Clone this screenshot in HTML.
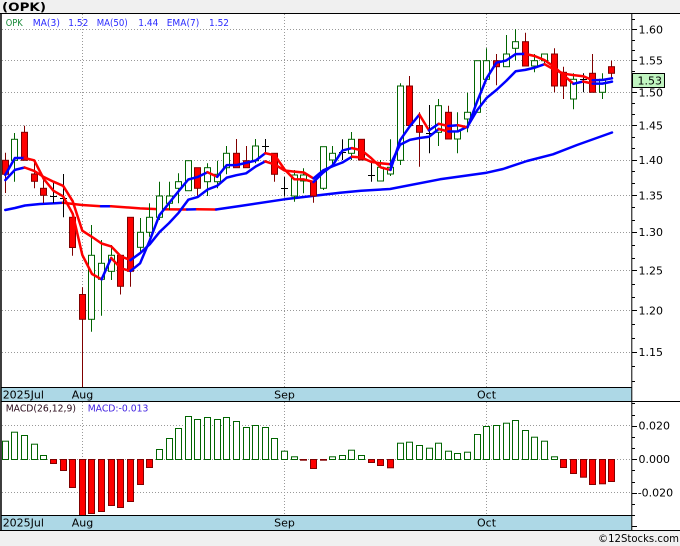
<!DOCTYPE html>
<html><head><meta charset="utf-8">
<style>
html,body{margin:0;padding:0;background:#f0f0f0;overflow:hidden;}
svg{display:block;}
text{font-family:"DejaVu Sans","Liberation Sans",sans-serif;}
</style></head>
<body>
<svg id="c" width="680" height="546" viewBox="0 0 680 546" xmlns="http://www.w3.org/2000/svg">
<defs>
<clipPath id="cpMain"><rect x="1.5" y="14" width="630.3" height="373"/></clipPath>
<clipPath id="cpMacd"><rect x="1.5" y="402" width="630.3" height="113"/></clipPath>
</defs>
<rect x="0" y="0" width="680" height="546" fill="#f0f0f0"/>
<rect x="1" y="14" width="679" height="516" fill="#ffffff"/>
<g id="grid"></g>
<g id="plot" clip-path="url(#cpMain)"></g>
<g id="macd" clip-path="url(#cpMacd)"></g>

<!-- date bands -->
<rect x="1" y="387" width="631" height="14" fill="#add8e6"/>
<rect x="1" y="515" width="631" height="15" fill="#add8e6"/>
<line x1="1" y1="387.5" x2="632" y2="387.5" stroke="#000" stroke-width="1"/>
<line x1="1" y1="401.5" x2="680" y2="401.5" stroke="#000" stroke-width="1"/>
<line x1="1" y1="515.5" x2="632" y2="515.5" stroke="#000" stroke-width="1"/>
<line x1="0" y1="530.5" x2="680" y2="530.5" stroke="#000" stroke-width="1"/>
<line x1="0" y1="13.5" x2="680" y2="13.5" stroke="#000" stroke-width="1"/>
<line x1="1" y1="13.5" x2="1" y2="531" stroke="#000" stroke-width="1.5"/>
<line x1="631.8" y1="13.5" x2="631.8" y2="531" stroke="#000" stroke-width="1"/>
<g id="ticks"></g>

<!-- title & legend -->
<text x="2" y="11" font-size="11.5" font-weight="bold" fill="#000" textLength="44" lengthAdjust="spacingAndGlyphs">(OPK)</text>
<g font-size="10">
<text x="5.7" y="26" fill="#1a8a3a" textLength="17" lengthAdjust="spacingAndGlyphs">OPK</text>
<text x="32.7" y="26" fill="#2a2aff" textLength="27.3" lengthAdjust="spacingAndGlyphs">MA(3)</text>
<text x="68.3" y="26" fill="#2a2aff" textLength="20" lengthAdjust="spacingAndGlyphs">1.52</text>
<text x="96.7" y="26" fill="#2a2aff" textLength="31" lengthAdjust="spacingAndGlyphs">MA(50)</text>
<text x="138.3" y="26" fill="#2a2aff" textLength="20" lengthAdjust="spacingAndGlyphs">1.44</text>
<text x="166.7" y="26" fill="#2a2aff" textLength="32.6" lengthAdjust="spacingAndGlyphs">EMA(7)</text>
<text x="209" y="26" fill="#2a2aff" textLength="20" lengthAdjust="spacingAndGlyphs">1.52</text>
</g>

<!-- price labels -->
<g font-size="11" fill="#000">
<text x="638.5" y="33.3">1.60</text>
<text x="638.5" y="64.3">1.55</text>
<text x="638.5" y="96.4">1.50</text>
<text x="638.5" y="129.5">1.45</text>
<text x="638.5" y="163.8">1.40</text>
<text x="638.5" y="199.3">1.35</text>
<text x="638.5" y="236.2">1.30</text>
<text x="638.5" y="274.5">1.25</text>
<text x="638.5" y="314.4">1.20</text>
<text x="638.5" y="356">1.15</text>
</g>
<rect x="632.5" y="73.5" width="32" height="14" fill="#c1f5c1" stroke="#000" stroke-width="1"/>
<text x="637.5" y="84.5" font-size="11" fill="#000">1.53</text>

<!-- date labels -->
<g font-size="11" fill="#000">
<text x="2.7" y="398.5">2025Jul</text>
<text x="82.5" y="398.5" text-anchor="middle">Aug</text>
<text x="284.5" y="398.5" text-anchor="middle">Sep</text>
<text x="486.5" y="398.5" text-anchor="middle">Oct</text>
<text x="2.7" y="526.5">2025Jul</text>
<text x="82.5" y="526.5" text-anchor="middle">Aug</text>
<text x="284.5" y="526.5" text-anchor="middle">Sep</text>
<text x="486.5" y="526.5" text-anchor="middle">Oct</text>
</g>

<!-- MACD labels -->
<text x="5.7" y="411.7" font-size="9.5" fill="#2a0a1a" textLength="70.3" lengthAdjust="spacingAndGlyphs">MACD(26,12,9)</text>
<text x="87.7" y="411.7" font-size="9.5" fill="#4020e0" textLength="60.7" lengthAdjust="spacingAndGlyphs">MACD:-0.013</text>
<g font-size="11" fill="#000">
<text x="638.5" y="429.3">0.020</text>
<text x="638.5" y="463">0.000</text>
<text x="637.7" y="496.5">-0.020</text>
</g>
<text x="598" y="542" font-size="10.5" fill="#000" textLength="81" lengthAdjust="spacingAndGlyphs">©12Stocks.com</text>
</svg>

<script>
(function(){
var S='http://www.w3.org/2000/svg';
function el(p,t,a){var e=document.createElementNS(S,t);for(var k in a)e.setAttribute(k,a[k]);p.appendChild(e);return e;}
var gGrid=document.getElementById('grid'),gPlot=document.getElementById('plot'),gMacd=document.getElementById('macd'),gTicks=document.getElementById('ticks');
var Y0=29.3,K=977;
function py(p){return Y0+K*Math.log(1.6/p);}
function X(i){return 5.3+9.63*i;}
function XC(i){return Math.floor(X(i));}

// grid
var dash={stroke:'#999','stroke-width':1,'stroke-dasharray':'1,2'};
function dl(x1,y1,x2,y2){var a={x1:x1,y1:y1,x2:x2,y2:y2};for(var k in dash)a[k]=dash[k];el(gGrid,'line',a);}
for(var j=0;j<=9;j++){var p=1.15+j*0.05;var y=Math.round(py(p))+0.5;dl(2,y,632,y);}
[8,29,50].forEach(function(i){var x=XC(i)+0.5;dl(x,14,x,387);dl(x,402,x,515);});
[425.5,459.5,492.5].forEach(function(y){dl(2,y,632,y);});

// ticks
for(var j=-30;j<=3;j++){var p=1.6+j*(0.05/3);if(p<=0)continue;var y=py(p);if(y<14||y>387)continue;var len=(j%3===0)?5:3;y=Math.round(y)+0.5;el(gTicks,'line',{x1:632,y1:y,x2:632+len,y2:y,stroke:'#000','stroke-width':1});}
for(var j=-7;j<=6;j++){var y=459.3-j*11.17;if(y<402||y>530)continue;var len=(j%3===0)?5:3;y=Math.round(y)+0.5;el(gTicks,'line',{x1:632,y1:y,x2:632+len,y2:y,stroke:'#000','stroke-width':1});}

// MA50
var ma50=[
['#0000ff',[[5.3,210],[15,208],[25,205.5],[40,204],[55,203.2],[63,202.8]]],
['#ff0000',[[63,202.8],[82,205],[101,206.2]]],
['#0000ff',[[101,206.2],[111,206.2]]],
['#ff0000',[[111,206.2],[140,208.4],[160,209.3],[187,209.5]]],
['#0000ff',[[187,209.5],[197,209.3]]],
['#ff0000',[[197,209.3],[216,209.5]]],
['#0000ff',[[216,209.5],[240,206],[284.5,199.3],[340,192.7],[361,190.7],[390,189],[440,179.3],[486.7,172.7],[503,169],[527,161],[553,154.3],[577,145],[612,132.5]]]
];
function pl(pts,col){el(gPlot,'polyline',{points:pts.map(function(q){return q[0].toFixed(1)+','+q[1].toFixed(1);}).join(' '),fill:'none',stroke:col,'stroke-width':2.5,'stroke-linejoin':'round','stroke-linecap':'round'});}
ma50.forEach(function(r){pl(r[1],r[0]);});

// candles: type, bodyTop, bodyBot, wickTop, wickBot
var C=[
['r',160.3,174.3,152.7,193],
['g',139.3,160.3,133,181.7],
['r',132.3,160.3,125.7,160.3],
['r',174,181.3,160.3,188.3],
['r',188.3,195.3,180,203],
['d',195.7,195.7,183,203],
['d',198,198,174,217.3],
['r',217.3,247.5,217.3,255.7],
['r',294.5,319.3,287.3,387],
['g',255.3,319.3,225,331.7],
['g',263.3,279.3,240,315.7],
['g',255.3,271.3,245,280],
['r',255.3,286.3,255.3,294.5],
['r',217.3,271.3,217.3,286.7],
['g',232.3,247.3,218,253],
['g',217.3,232.3,203.3,236.7],
['g',196,217.3,181.7,220],
['g',196,203.3,181.7,210],
['g',181.7,188.3,173.3,203.3],
['g',160.7,190.7,160.7,190.7],
['r',167.7,188.3,167.7,196],
['g',167.7,181.7,163.3,196],
['g',174.3,181.7,160.7,188.3],
['g',153.3,167.7,146,174.3],
['r',153.3,167.7,139,167.7],
['r',160.7,167.7,146,167.7],
['g',146,160.7,139,163.3],
['d',146,146,139,153.3],
['r',153.3,174.3,153.3,181.7],
['d',188.3,188.3,177,196.5],
['g',175,196,170,201.7],
['g',175,181,168.3,193.3],
['r',181,196,181,202.7],
['g',146.7,188.3,146.7,190],
['g',153.3,160,146,166.7],
['d',151.7,151.7,139.3,160],
['g',139.3,153.3,132,160],
['r',139.3,160,139.3,160],
['d',175,175,161.7,181.7],
['g',167.3,181,160,181],
['g',167.3,174,139.3,176],
['g',86,160.3,83.3,165],
['r',86,125.5,76,125.5],
['r',125.5,132.3,112.3,166.7],
['d',133.3,133.3,105,153.3],
['g',105.7,132.3,99,146],
['r',112.3,139,105.7,139],
['g',131,139,112.3,153.3],
['g',112.3,119,92.7,132.3],
['g',60.7,112.3,60.7,112.3],
['g',60.7,79.3,48.3,79.3],
['r',60.7,66.7,54,85.3],
['g',54,66.7,35,66.7],
['g',41.7,48.3,29.3,60.7],
['r',41.7,66,32.7,66],
['g',60.7,66,54,72.3],
['g',54,60.7,54,65],
['r',54,86,48.3,92.3],
['r',72.3,86,66.7,99],
['g',79.3,99,73.3,109.3],
['d',79.3,79.3,73.3,92.3],
['r',73.3,92.3,54,92.3],
['g',79.3,92.3,73.3,99],
['r',66.7,73.3,60.7,79.3]
];
var closes=[];
C.forEach(function(c,i){
  var xc=XC(i),wx=xc+0.5,t=c[0];
  var bt=c[1],bb=c[2];if(bb-bt<1)bb=bt+1;
  if(t==='d'){
    el(gPlot,'line',{x1:wx,y1:c[3],x2:wx,y2:c[4],stroke:'#000','stroke-width':1});
    var yy=Math.round(c[1])+0.5;
    el(gPlot,'line',{x1:xc-3,y1:yy,x2:xc+4,y2:yy,stroke:'#000','stroke-width':1});
    closes.push(c[1]);
  }else if(t==='r'){
    el(gPlot,'line',{x1:wx,y1:c[3],x2:wx,y2:c[4],stroke:'#800000','stroke-width':1});
    el(gPlot,'rect',{x:xc-2.5,y:bt,width:6,height:bb-bt,fill:'#ff0000',stroke:'#800000','stroke-width':1});
    closes.push(c[2]);
  }else{
    el(gPlot,'line',{x1:wx,y1:c[3],x2:wx,y2:c[4],stroke:'#006400','stroke-width':1});
    el(gPlot,'rect',{x:xc-2.5,y:bt,width:6,height:bb-bt,fill:'#ffffff',stroke:'#006400','stroke-width':1});
    closes.push(c[1]);
  }
});

// MA3 / EMA7
var pr=[190,160.5];
var ma3=[],ema=[],e=182;
for(var i=0;i<closes.length;i++){
  var a=i-2>=0?closes[i-2]:pr[i];
  var b=i-1>=0?closes[i-1]:pr[1];
  ma3.push([X(i),(a+b+closes[i])/3]);
  e=e+0.25*(closes[i]-e);
  ema.push([X(i),e]);
}
function series(pts){
  var runs=[],cur=null;
  for(var i=0;i<pts.length-1;i++){
    var col=pts[i+1][1]>pts[i][1]?'#ff0000':'#0000ff';
    if(!cur||cur.c!==col){cur={c:col,p:[pts[i]]};runs.push(cur);}
    cur.p.push(pts[i+1]);
  }
  runs.forEach(function(r){pl(r.p,r.c);});
}
series(ema);
series(ma3);

// MACD histogram (pixels, positive up), zero at 459.3
var H=[18.3,27.3,24,15.3,4,-4,-11,-28,-60,-54,
-52,-46,-48,-42,-25,-8,10,21,31,43,
40,42,40,42,38,32,34,32,21,8.3,
2.7,-0.7,-9,-0.7,2.7,4,9.3,4,-3,-6,
-8.3,16.3,17.3,14,11.3,16.3,8.3,6,7.3,25,
33,34,36.3,39,29,22.3,18.3,2.7,-8,-14,
-17.7,-25,-24.3,-22];
var Z=459.5;
H.forEach(function(h,i){
  var xc=XC(i);
  if(h>=0){
    el(gMacd,'rect',{x:xc-2.5,y:Z-h,width:6,height:Math.max(h,0.5),fill:'#ffffff',stroke:'#006400','stroke-width':1});
  }else{
    el(gMacd,'rect',{x:xc-2.5,y:Z,width:6,height:Math.max(-h,0.5),fill:'#ff0000',stroke:'#800000','stroke-width':1});
  }
});
})();
</script>
</body></html>
